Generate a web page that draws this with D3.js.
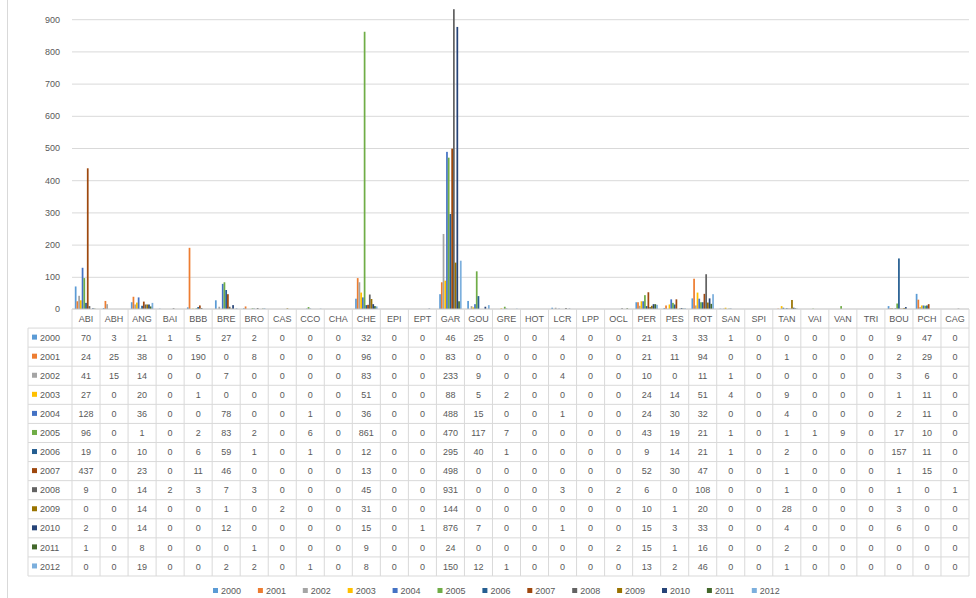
<!DOCTYPE html>
<html>
<head>
<meta charset="utf-8">
<script src="https://cdn.jsdelivr.net/npm/d3@7"></script>
<style>
  html, body { margin: 0; padding: 0; background: #fff; }
  svg { display: block; font-family: "Liberation Sans", Arial, sans-serif; }
</style>
</head>
<body>
<svg id="chart" width="976" height="598"></svg>
<script>
const categories = ["ABI","ABH","ANG","BAI","BBB","BRE","BRO","CAS","CCO","CHA","CHE","EPI","EPT","GAR","GOU","GRE","HOT","LCR","LPP","OCL","PER","PES","ROT","SAN","SPI","TAN","VAI","VAN","TRI","BOU","PCH","CAG"];
const years = ["2000","2001","2002","2003","2004","2005","2006","2007","2008","2009","2010","2011","2012"];
const yTicks = [0,100,200,300,400,500,600,700,800,900];

const v2000 = [70,3,21,1,5,27,2,0,0,0,32,0,0,46,25,0,0,4,0,0,21,3,33,1,0,0,0,0,0,9,47,0];
const v2001 = [24,25,38,0,190,0,8,0,0,0,96,0,0,83,0,0,0,0,0,0,21,11,94,0,0,1,0,0,0,2,29,0];
const v2002 = [41,15,14,0,0,7,0,0,0,0,83,0,0,233,9,0,0,4,0,0,10,0,11,1,0,0,0,0,0,3,6,0];
const v2003 = [27,0,20,0,1,0,0,0,0,0,51,0,0,88,5,2,0,0,0,0,24,14,51,4,0,9,0,0,0,1,11,0];
const v2004 = [128,0,36,0,0,78,0,0,1,0,36,0,0,488,15,0,0,1,0,0,24,30,32,0,0,4,0,0,0,2,11,0];
const v2005 = [96,0,1,0,2,83,2,0,6,0,861,0,0,470,117,7,0,0,0,0,43,19,21,1,0,1,1,9,0,17,10,0];
const v2006 = [19,0,10,0,6,59,1,0,1,0,12,0,0,295,40,1,0,0,0,0,9,14,21,1,0,2,0,0,0,157,11,0];
const v2007 = [437,0,23,0,11,46,0,0,0,0,13,0,0,498,0,0,0,0,0,0,52,30,47,0,0,1,0,0,0,1,15,0];
const v2008 = [9,0,14,2,3,7,3,0,0,0,45,0,0,931,0,0,0,3,0,2,6,0,108,0,0,1,0,0,0,1,0,1];
const v2009 = [0,0,14,0,0,1,0,2,0,0,31,0,0,144,0,0,0,0,0,0,10,1,20,0,0,28,0,0,0,3,0,0];
const v2010 = [2,0,14,0,0,12,0,0,0,0,15,0,1,876,7,0,0,1,0,0,15,3,33,0,0,4,0,0,0,6,0,0];
const v2011 = [1,0,8,0,0,0,1,0,0,0,9,0,0,24,0,0,0,0,0,2,15,1,16,0,0,2,0,0,0,0,0,0];
const v2012 = [0,0,19,0,0,2,2,0,1,0,8,0,0,150,12,1,0,0,0,0,13,2,46,0,0,1,0,0,0,0,0,0];

const seriesValues = [v2000,v2001,v2002,v2003,v2004,v2005,v2006,v2007,v2008,v2009,v2010,v2011,v2012];
const colors = ["#5B9BD5","#ED7D31","#A5A5A5","#FFC000","#4472C4","#70AD47","#255E91","#9E480E","#636363","#997300","#264478","#43682B","#7CAFDD"];

const svg = d3.select("#chart");
const textColor = "#595959";
const gridColor = "#D9D9D9";

const left = 72, right = 969, baseY = 309, topY = 19.2;
const x0 = d3.scaleBand().domain(categories).range([left, right]);
const x1 = d3.scaleBand().domain(years).range([x0.bandwidth() * 0.1, x0.bandwidth() * 0.9]);
const y = d3.scaleLinear().domain([0, 900]).range([baseY, topY]);
const color = d3.scaleOrdinal().domain(years).range(colors);

svg.append("rect").attr("width", 976).attr("height", 598).attr("fill", "#fff");
// outer left border
svg.append("line").attr("x1", 7.5).attr("x2", 7.5).attr("y1", 0).attr("y2", 598)
  .attr("stroke", "#D9D9D9");

// gridlines
const grid = svg.append("g").attr("transform", `translate(${left},0)`)
  .call(d3.axisLeft(y).tickValues(yTicks.filter(d => d > 0)).tickSize(-(right - left)).tickFormat(""));
grid.select(".domain").remove();
grid.selectAll("line").attr("stroke", gridColor);

// y axis labels
const yAxis = svg.append("g").attr("transform", `translate(${left},0)`)
  .call(d3.axisLeft(y).tickValues(yTicks).tickSize(0).tickPadding(12));
yAxis.select(".domain").remove();
yAxis.selectAll("text").attr("fill", textColor).attr("font-size", 9).attr("font-family", "Liberation Sans, Arial, sans-serif");

// bars
const rows = years.map((yr, i) => ({ year: yr, values: seriesValues[i] }));
const barG = svg.append("g");
rows.forEach(r => {
  barG.append("g").selectAll("rect")
    .data(r.values.map((v, j) => ({ cat: categories[j], v })))
    .join("rect")
    .attr("x", d => x0(d.cat) + x1(r.year))
    .attr("width", x1.bandwidth())
    .attr("y", d => y(d.v))
    .attr("height", d => baseY - y(d.v))
    .attr("fill", color(r.year));
});

// data table
const rowBand = d3.scaleBand().domain(["header", ...years]).range([baseY, 576]);
const tableLeft = 28;
const tbl = svg.append("g");
// horizontal lines
["header", ...years].forEach((k, i) => {
  const yy = rowBand(k);
  tbl.append("line").attr("x1", i === 0 ? left : tableLeft).attr("x2", right)
    .attr("y1", yy).attr("y2", yy).attr("stroke", i === 0 ? "#BFBFBF" : gridColor);
});
tbl.append("line").attr("x1", tableLeft).attr("x2", right)
  .attr("y1", rowBand.range()[1]).attr("y2", rowBand.range()[1]).attr("stroke", gridColor);
// vertical lines
categories.forEach(c => {
  tbl.append("line").attr("x1", x0(c)).attr("x2", x0(c))
    .attr("y1", baseY).attr("y2", rowBand.range()[1]).attr("stroke", gridColor);
});
tbl.append("line").attr("x1", right).attr("x2", right)
  .attr("y1", baseY).attr("y2", rowBand.range()[1]).attr("stroke", gridColor);
tbl.append("line").attr("x1", tableLeft).attr("x2", tableLeft)
  .attr("y1", rowBand(years[0])).attr("y2", rowBand.range()[1]).attr("stroke", gridColor);

// header labels
tbl.append("g").selectAll("text").data(categories).join("text")
  .attr("x", d => x0(d) + x0.bandwidth() / 2)
  .attr("y", rowBand("header") + rowBand.bandwidth() / 2)
  .attr("dy", "0.35em").attr("text-anchor", "middle")
  .attr("font-size", 9).attr("fill", textColor).text(d => d);

// row labels and values
rows.forEach(r => {
  const cy = rowBand(r.year) + rowBand.bandwidth() / 2;
  tbl.append("rect").attr("x", 32).attr("y", cy - 3).attr("width", 5).attr("height", 5)
    .attr("fill", color(r.year));
  tbl.append("text").attr("x", 40).attr("y", cy).attr("dy", "0.35em")
    .attr("font-size", 9).attr("fill", textColor).text(r.year);
  tbl.append("g").selectAll("text").data(r.values.map((v, j) => ({ cat: categories[j], v })))
    .join("text")
    .attr("x", d => x0(d.cat) + x0.bandwidth() / 2)
    .attr("y", cy).attr("dy", "0.35em").attr("text-anchor", "middle")
    .attr("font-size", 9).attr("fill", textColor).text(d => d.v);
});

// legend
const legStart = 213, legStep = 44.9, legY = 591;
const leg = svg.append("g");
years.forEach((yr, i) => {
  const lx = legStart + i * legStep;
  leg.append("rect").attr("x", lx).attr("y", legY - 3).attr("width", 5).attr("height", 5).attr("fill", color(yr));
  leg.append("text").attr("x", lx + 8).attr("y", legY).attr("dy", "0.35em")
    .attr("font-size", 9).attr("fill", textColor).text(yr);
});
</script>
</body>
</html>
